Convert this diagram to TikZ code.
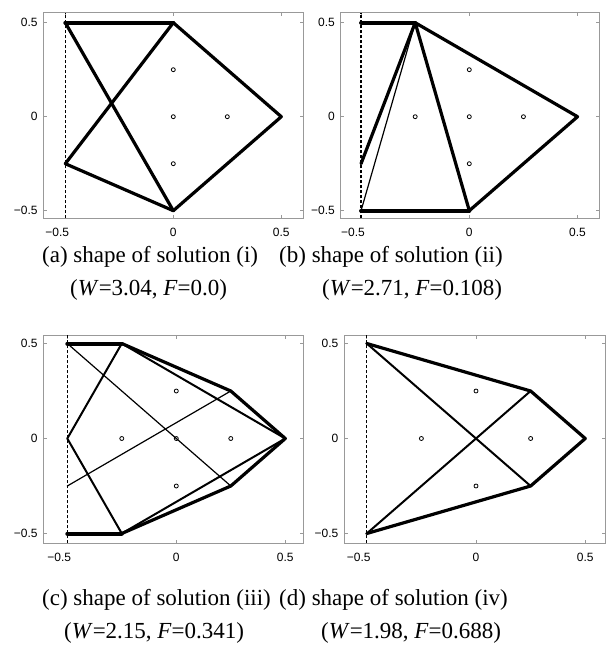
\documentclass[tikz,border=0pt]{standalone}
\usepackage{fontspec}
\setmainfont{Liberation Serif}
\newfontfamily\axfont{Liberation Sans}
\tikzset{
  boxline/.style={draw=black!40, line width=0.6pt},
  dashline/.style={draw=black, line width=1.2pt, dash pattern=on 3pt off 2pt},
  vthk/.style={line width=4pt, line cap=round, line join=round},
  thk/.style={line width=3.2pt, line cap=round, line join=round},
  med/.style={line width=2pt, line cap=round, line join=round},
  thn/.style={line width=1.2pt, line cap=round},
  dotc/.style={draw=black, line width=0.8pt},
  ylab/.style={font=\axfont\fontsize{12}{14}\selectfont, anchor=east, inner sep=0pt},
  xlab/.style={font=\axfont\fontsize{12}{14}\selectfont, anchor=center, inner sep=0pt},
  capt/.style={font=\fontsize{23}{27}\selectfont, anchor=base west, inner sep=0pt}
}
% #1 x0, #2 y0, #3 sx, #4 sy, #5 L, #6 R, #7 T, #8 B, #9 content
\newcommand\mypanel[9]{%
\begin{scope}[shift={(#1,#2)},x=#3pt,y=#4pt]
  \pgfmathsetmacro\bL{(#5-#1)/#3}
  \pgfmathsetmacro\bR{(#6-#1)/#3}
  \pgfmathsetmacro\bT{(#2-#7)/#4}
  \pgfmathsetmacro\bB{(#2-#8)/#4}
  \draw[boxline] (\bL,\bB) rectangle (\bR,\bT);
  \foreach \v in {-0.5,0,0.5}{
    \draw[boxline] (\v,\bB) -- ++(0,3.5pt);
    \draw[boxline] (\v,\bT) -- ++(0,-3.5pt);
    \draw[boxline] (\bL,\v) -- ++(3.5pt,0);
    \draw[boxline] (\bR,\v) -- ++(-3.5pt,0);
  }
  \node[ylab] (yl1) at ([xshift=-5.5pt]\bL,0.5) {0.5};
  \node[ylab] (yl2) at ([xshift=-5.5pt]\bL,0) {0};
  \node[ylab] (yl3) at ([xshift=-5.5pt]\bL,-0.5) {−0.5};
  \node[xlab] (xl1) at ([xshift=-8pt,yshift=-14pt]-0.5,\bB) {−0.5};
  \node[xlab] (xl2) at ([yshift=-14pt]0,\bB) {0};
  \node[xlab] (xl3) at ([yshift=-14pt]0.5,\bB) {0.5};
  \coordinate (dt) at (-0.5,\bT);
  \coordinate (db) at (-0.5,\bB);
  \draw[dashline] (db) -- (dt);
  #9
\end{scope}}
\begin{document}
\begin{tikzpicture}[x=1pt,y=-1pt]
\useasboundingbox (0,0) rectangle (613,650);
\fill[white] (0,0) rectangle (613,650);

% (a)
\mypanel{173.3}{116.7}{216}{188}{43.3}{303}{12.7}{218.3}{%
  \coordinate (A1) at (-0.5,0.5); \coordinate (A2) at (0,0.5);
  \coordinate (A3) at (0.5,0);    \coordinate (A4) at (0,-0.5);
  \coordinate (A5) at (-0.5,-0.25);
  \draw[vthk] (A1) -- (A2);
  \draw[thk] (A2) -- (A3) -- (A4) -- (A5) -- (A2);
  \draw[thk] (A1) -- (A4);
  \foreach \p in {(0,0.25),(0,0),(0.25,0),(0,-0.25)} \draw[dotc] \p circle[radius=2pt];
}

% (b)
\mypanel{469.3}{116.7}{216.5}{188}{340.5}{599.3}{12.7}{218.3}{%
  \coordinate (B1) at (-0.5,0.5); \coordinate (B2) at (-0.25,0.5);
  \coordinate (B3) at (0.5,0);    \coordinate (B4) at (0,-0.5);
  \coordinate (B5) at (-0.5,-0.5); \coordinate (B6) at (-0.5,-0.25);
  \draw[vthk] (B1) -- (B2);
  \draw[vthk] (B5) -- (B4);
  \draw[thk] (B2) -- (B3) -- (B4) -- (B2);
  \draw[thk] (B2) -- (B6);
  \draw[thn] (B2) -- (B5);
  \foreach \p in {(-0.25,0),(0,0.25),(0,0),(0.25,0),(0,-0.25)} \draw[dotc] \p circle[radius=2pt];
}

% (c)
\mypanel{176.3}{438.5}{218}{190}{43.3}{303.3}{335}{543.3}{%
  \coordinate (C1) at (-0.5,0.5);  \coordinate (C2) at (-0.25,0.5);
  \coordinate (C3) at (0.25,0.25); \coordinate (C4) at (0.5,0);
  \coordinate (C5) at (0.25,-0.25);\coordinate (C6) at (-0.25,-0.5);
  \coordinate (C7) at (-0.5,-0.5); \coordinate (C8) at (-0.5,0);
  \coordinate (C9) at (-0.5,-0.25);
  \draw[vthk] (C1) -- (C2);
  \draw[vthk] (C7) -- (C6);
  \draw[thk] (C2) -- (C3) -- (C4) -- (C5) -- (C6);
  \draw[med] (C2) -- (C4) -- (C6);
  \draw[med] (C2) -- (C8) -- (C6);
  \draw[thn] (C1) -- (C5);
  \draw[thn] (C9) -- (C3);
  \foreach \p in {(-0.25,0),(0,0.25),(0,0),(0.25,0),(0,-0.25)} \draw[dotc] \p circle[radius=2pt];
}

% (d)
\mypanel{476}{438.5}{218.5}{190}{344}{605}{335}{543.3}{%
  \coordinate (D1) at (-0.5,0.5);  \coordinate (D2) at (0.25,0.25);
  \coordinate (D3) at (0.5,0);     \coordinate (D4) at (0.25,-0.25);
  \coordinate (D5) at (-0.5,-0.5);
  \draw[thk] (D1) -- (D2) -- (D3) -- (D4) -- (D5);
  \draw[med] (D1) -- (D4);
  \draw[med] (D5) -- (D2);
  \foreach \p in {(-0.25,0),(0,0.25),(0.25,0),(0,-0.25)} \draw[dotc] \p circle[radius=2pt];
}

% captions
\node[capt] (ca1) at (42,262) {(a) shape of solution (i)};
\node[capt] (ca2) at (70,295) {(\textit{W}=3.04, \textit{F}=0.0)};
\node[capt] (cb1) at (279,262) {(b) shape of solution (ii)};
\node[capt] (cb2) at (322,295) {(\textit{W}=2.71, \textit{F}=0.108)};
\node[capt] (cc1) at (42,605) {(c) shape of solution (iii)};
\node[capt] (cc2) at (64,638) {(\textit{W}=2.15, \textit{F}=0.341)};
\node[capt] (cd1) at (279,605) {(d) shape of solution (iv)};
\node[capt] (cd2) at (321,638) {(\textit{W}=1.98, \textit{F}=0.688)};
\end{tikzpicture}
\end{document}
